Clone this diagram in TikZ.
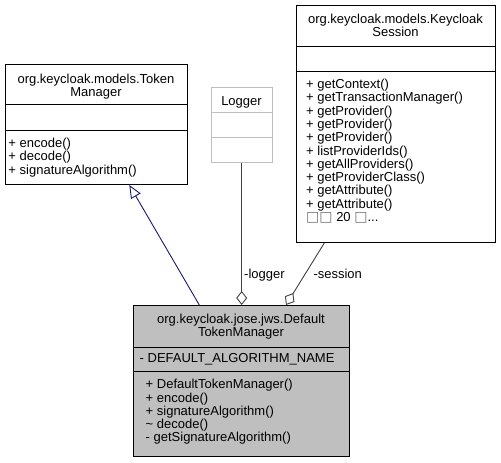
\documentclass[tikz,border=0pt]{standalone}
\usepackage{fontspec}
\setmainfont{Liberation Sans}
\newfontfamily\dejavu{DejaVu Sans}
\usetikzlibrary{arrows.meta}
\definecolor{dtmfill}{HTML}{BFBFBF}
\definecolor{lggray}{HTML}{BFBFBF}
\definecolor{edgegray}{HTML}{404040}
\definecolor{inhblue}{HTML}{191970}
\tikzset{
  box/.style={draw=black, line width=1pt, inner sep=0pt, anchor=north west},
  txt/.style={inner sep=0pt, anchor=base west, font=\fontsize{13pt}{13.3pt}\selectfont},
  ttl/.style={inner sep=0pt, anchor=base, font=\fontsize{13pt}{13.3pt}\selectfont},
  divider/.style={line width=1pt},
  inh/.style={draw=inhblue, line width=0.9pt, -{Triangle[open, length=13pt, width=11pt]}},
  agg/.style={draw=edgegray, line width=0.9pt, {Diamond[open, length=14pt, width=11pt]}-},
  lbl/.style={inner sep=0pt, anchor=base west, font=\fontsize{13pt}{13.3pt}\selectfont}
}
\begin{document}
\begin{tikzpicture}[x=1pt, y=-1pt]
\useasboundingbox (0,0) rectangle (501,463);

% TokenManager
\node[box, minimum width=182pt, minimum height=120pt] (tm) at (5,64) {};
\draw[divider] (5,104) -- (187,104);
\draw[divider] (5,130) -- (187,130);
\node[ttl] (tmt1) at (96,83) {org.keycloak.models.Token};
\node[ttl] (tmt2) at (96,96.3) {Manager};
\node[txt] (tmm1) at (8.3,147.5) {+ encode()};
\node[txt] (tmm2) at (8.3,160.8) {+ decode()};
\node[txt] (tmm3) at (8.3,174.1) {+ signatureAlgorithm()};

% KeycloakSession
\node[box, minimum width=199pt, minimum height=237pt] (ks) at (296,5) {};
\draw[divider] (296,46) -- (495,46);
\draw[divider] (296,71) -- (495,71);
\node[ttl] (kst1) at (395.5,23.5) {org.keycloak.models.Keycloak};
\node[ttl] (kst2) at (395.5,36.8) {Session};
\foreach \t [count=\i from 0] in {+ getContext(), + getTransactionManager(), + getProvider(), + getProvider(), + getProvider(), + listProviderIds(), + getAllProviders(), + getProviderClass(), + getAttribute(), + getAttribute()}
  \node[txt] (ksm\i) at (306,88.5+13.3*\i) {\t};
\node[txt] (ksm10) at (306,221.5) {{\dejavu\fontsize{14pt}{13.3pt}\selectfont\color{black!55}□□} 20 {\dejavu\fontsize{14pt}{13.3pt}\selectfont\color{black!55}□}...};

% Logger
\node[box, draw=lggray, minimum width=61pt, minimum height=75pt] (lg) at (211,87) {};
\draw[divider, lggray] (211,112) -- (272,112);
\draw[divider, lggray] (211,137) -- (272,137);
\node[ttl] (lgt) at (241.5,105) {Logger};

% DefaultTokenManager
\node[box, fill=dtmfill, minimum width=216pt, minimum height=151pt] (dtm) at (133,305) {};
\draw[divider] (133,347.5) -- (349,347.5);
\draw[divider] (133,371) -- (349,371);
\node[ttl] (dtmt1) at (241,323.5) {org.keycloak.jose.jws.Default};
\node[ttl] (dtmt2) at (241,336.8) {TokenManager};
\node[txt] (dtma) at (139.5,362.3) {- DEFAULT\_ALGORITHM\_NAME};
\foreach \t [count=\i from 0] in {+ DefaultTokenManager(), + encode(), + signatureAlgorithm(), \textasciitilde{} decode(), - getSignatureAlgorithm()}
  \node[txt] (dtmm\i) at (145.5,388.8+13.2*\i) {\t};

% connectors
\draw[inh] ([xshift=66.3pt]dtm.north west) -- ([xshift=124.3pt]tm.south west);
\draw[agg] ([xshift=108.7pt]dtm.north west) -- ([xshift=30.7pt]lg.south west);
\draw[agg] ([xshift=153pt]dtm.north west) -- ([xshift=28.3pt]ks.south west);

\node[lbl] (lbllogger) at (244,278.3) {-logger};
\node[lbl] (lblsession) at (313.3,278.3) {-session};
\end{tikzpicture}
\end{document}
